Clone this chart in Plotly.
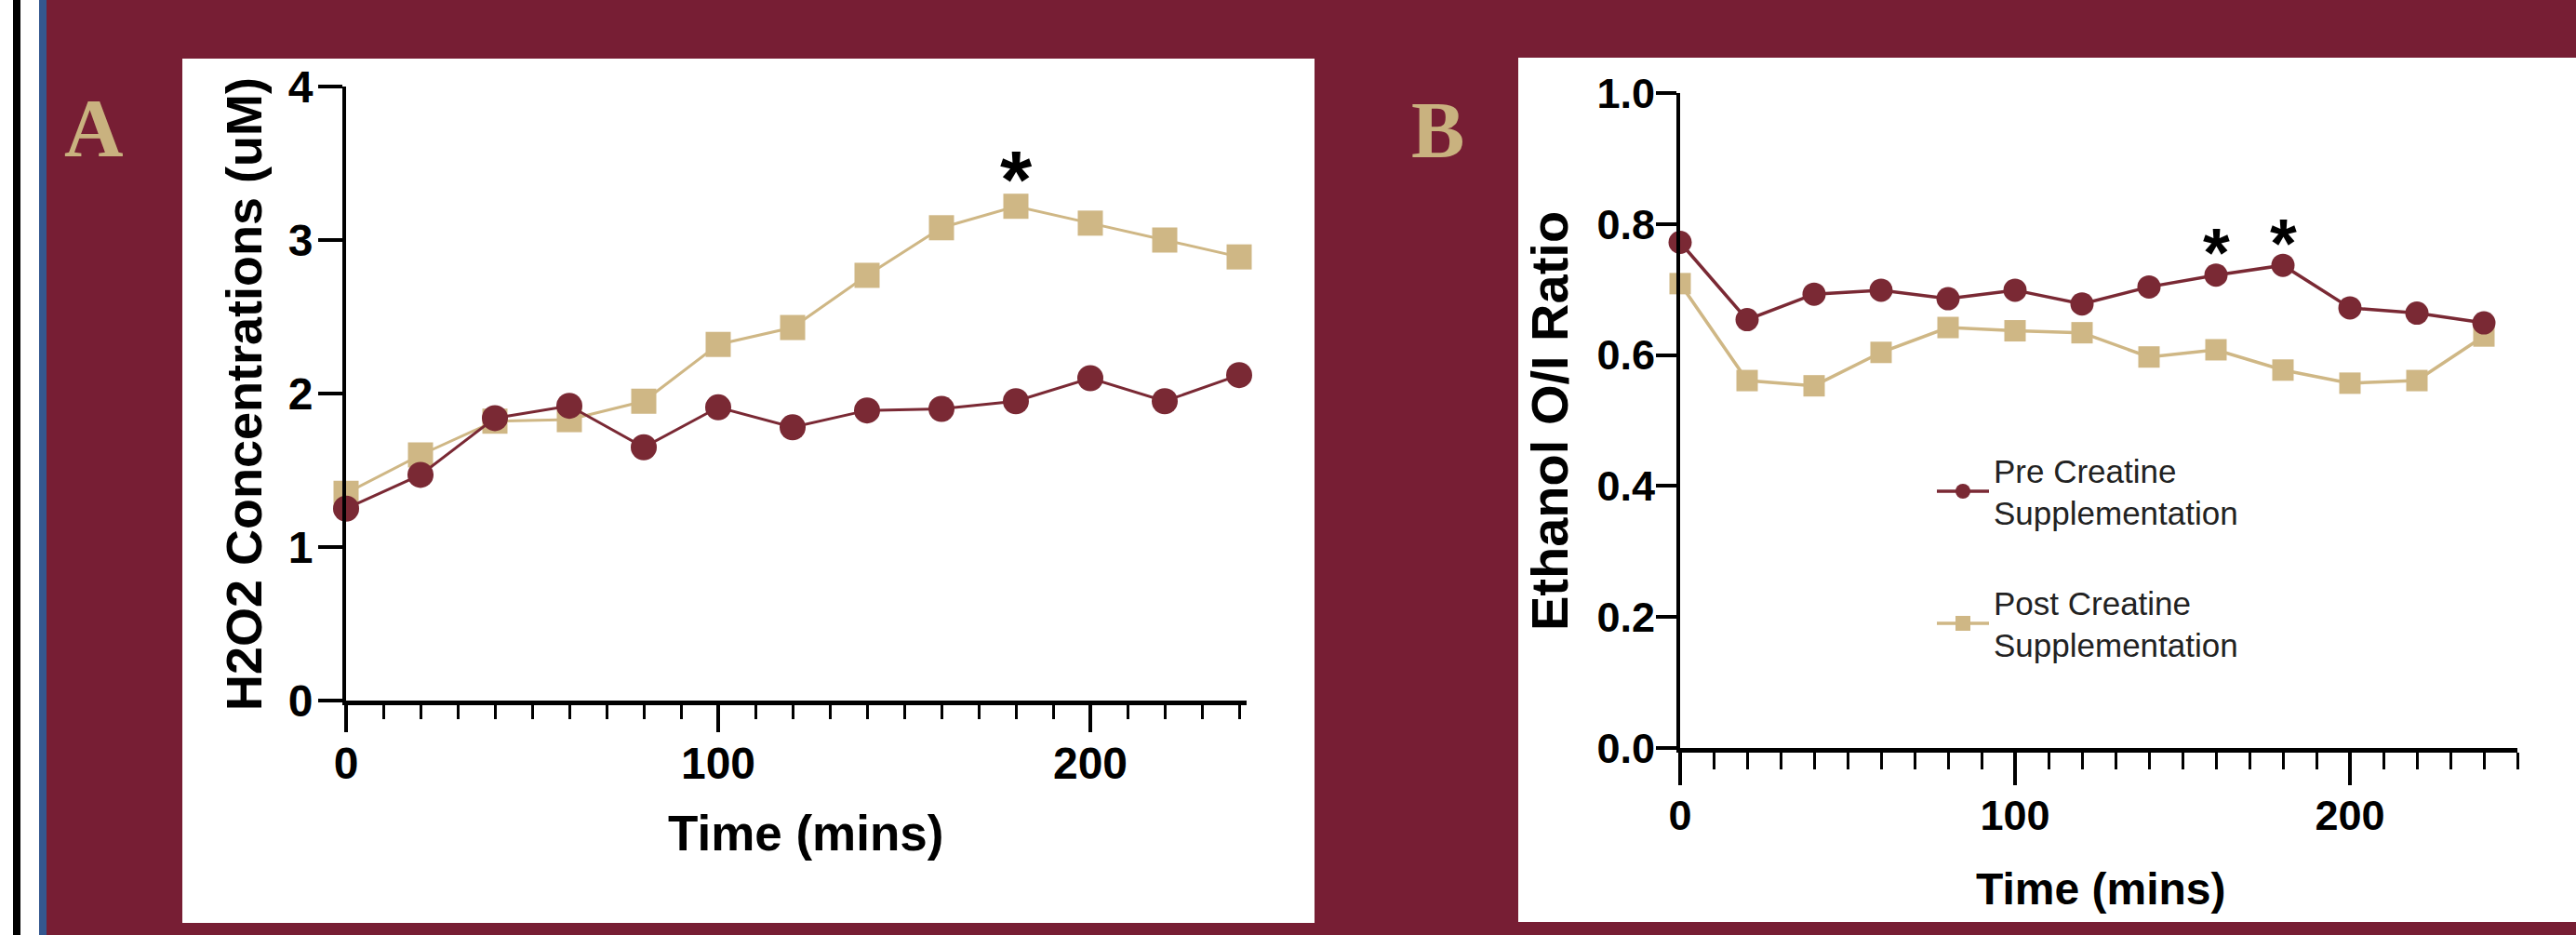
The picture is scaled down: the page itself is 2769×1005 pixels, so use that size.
import plotly.graph_objects as go

# ---------------- data ----------------
time_mins = [0, 20, 40, 60, 80, 100, 120, 140, 160, 180, 200, 220, 240]

h2o2_pre = [1.25, 1.47, 1.84, 1.92, 1.65, 1.91, 1.78, 1.89, 1.90, 1.95, 2.10, 1.95, 2.12]
h2o2_post = [1.35, 1.60, 1.82, 1.83, 1.95, 2.32, 2.43, 2.77, 3.08, 3.22, 3.11, 3.00, 2.89]

ethanol_pre = [0.772, 0.654, 0.693, 0.699, 0.686, 0.699, 0.678, 0.704, 0.722, 0.737, 0.672, 0.664, 0.649]
ethanol_post = [0.709, 0.561, 0.553, 0.604, 0.642, 0.637, 0.634, 0.597, 0.608, 0.577, 0.557, 0.561, 0.629]

star_times_a = [180]          # significant points on post series (panel A)
star_times_b = [160, 180]     # significant points on pre series (panel B)

series_names = ["Pre Creatine<br>Supplementation", "Post Creatine<br>Supplementation"]
panel_letters = ["A", "B"]

# ---------------- style ----------------
W, H = 2769, 1005
MAROON = "#771E34"
GOLD_TXT = "#C9B27F"
BLUE = "#34578F"
PRE_C = "#7A2934"
POST_C = "#CFB785"
SANS = "Liberation Sans, Arial, sans-serif"
SERIF = "Liberation Serif, Times New Roman, serif"


def fx(x):
    return x / W


def fy(y):
    return 1 - y / H


fig = go.Figure()

# Panel A traces (post first, pre on top)
fig.add_trace(go.Scatter(x=time_mins, y=h2o2_post, mode="lines+markers",
                         line=dict(color=POST_C, width=3),
                         marker=dict(symbol="square", size=27, color=POST_C),
                         showlegend=False, cliponaxis=False, xaxis="x", yaxis="y"))
fig.add_trace(go.Scatter(x=time_mins, y=h2o2_pre, mode="lines+markers",
                         line=dict(color=PRE_C, width=3),
                         marker=dict(symbol="circle", size=28, color=PRE_C),
                         showlegend=False, cliponaxis=False, xaxis="x", yaxis="y"))

# Panel B traces
fig.add_trace(go.Scatter(x=time_mins, y=ethanol_post, mode="lines+markers",
                         name=series_names[1], legendgroup="post", legendrank=2,
                         line=dict(color=POST_C, width=3.5),
                         marker=dict(symbol="square", size=23, color=POST_C),
                         cliponaxis=False, xaxis="x2", yaxis="y2"))
fig.add_trace(go.Scatter(x=time_mins, y=ethanol_pre, mode="lines+markers",
                         name=series_names[0], legendgroup="pre", legendrank=1,
                         line=dict(color=PRE_C, width=3.5),
                         marker=dict(symbol="circle", size=25, color=PRE_C),
                         cliponaxis=False, xaxis="x2", yaxis="y2"))

# ---------------- background shapes ----------------
shapes = []


def rect(x0, y0, x1, y1, color):
    shapes.append(dict(type="rect", xref="paper", yref="paper",
                       x0=fx(x0), x1=fx(x1), y0=fy(y1), y1=fy(y0),
                       fillcolor=color, line=dict(width=0), layer="below"))


rect(0, 0, 50, H, "white")
rect(14, 0, 22, H, "black")
rect(42, 0, 50, H, BLUE)
rect(196, 63, 1413, 992, "white")
rect(1632, 62, W, 991, "white")

# ---------------- axes ----------------
tick_a = dict(family=SANS, size=48, color="black", weight="bold")
tick_b = dict(family=SANS, size=45, color="black", weight="bold")

common_x = dict(showgrid=False, zeroline=False, showline=True, linecolor="black",
                ticks="outside", tickcolor="black", dtick=100, tick0=0, automargin=False)
common_y = dict(showgrid=False, zeroline=False, showline=True, linecolor="black",
                ticks="outside", tickcolor="black", automargin=False)

fig.update_layout(
    template="none",
    xaxis=dict(**common_x, domain=[fx(372), fx(1340)], range=[0, 242], anchor="y",
               linewidth=5, ticklen=29, tickwidth=4, tickfont=tick_a, ticklabelstandoff=-8,
               minor=dict(dtick=10, tick0=0, ticks="outside", ticklen=15, tickwidth=3,
                          tickcolor="black", showgrid=False)),
    yaxis=dict(**common_y, domain=[fy(753), fy(93)], range=[0, 4], dtick=1, anchor="x",
               linewidth=4, ticklen=26, tickwidth=4, tickfont=tick_a, ticklabelstandoff=-4),
    xaxis2=dict(**common_x, domain=[fx(1806), fx(2706)], range=[0, 250], anchor="y2",
                linewidth=5, ticklen=35, tickwidth=4, tickfont=tick_b, ticklabelstandoff=-6,
                minor=dict(dtick=10, tick0=0, ticks="outside", ticklen=18, tickwidth=3,
                           tickcolor="black", showgrid=False)),
    yaxis2=dict(**common_y, domain=[fy(804), fy(100)], range=[0, 1.0], dtick=0.2,
                tickformat=".1f", anchor="x2", ticklabelstandoff=-8,
                linewidth=4, ticklen=22, tickwidth=4, tickfont=tick_b),
)

# ---------------- annotations ----------------
ann = []
ann.append(dict(text=panel_letters[0], x=fx(101), y=fy(138), xref="paper", yref="paper",
                showarrow=False, xanchor="center", yanchor="middle",
                font=dict(family=SERIF, size=88, color=GOLD_TXT, weight="bold")))
ann.append(dict(text=panel_letters[1], x=fx(1545), y=fy(140), xref="paper", yref="paper",
                showarrow=False, xanchor="center", yanchor="middle",
                font=dict(family=SERIF, size=86, color=GOLD_TXT, weight="bold")))

ann.append(dict(text="H2O2 Concentrations (uM)", x=fx(262), y=fy(424), xref="paper", yref="paper",
                showarrow=False, textangle=-90, xanchor="center", yanchor="middle",
                font=dict(family=SANS, size=54, color="black", weight="bold")))
ann.append(dict(text="Time (mins)", x=fx(866), y=fy(895), xref="paper", yref="paper",
                showarrow=False, xanchor="center", yanchor="middle",
                font=dict(family=SANS, size=53, color="black", weight="bold")))
ann.append(dict(text="Ethanol O/I Ratio", x=fx(1665), y=fy(453), xref="paper", yref="paper",
                showarrow=False, textangle=-90, xanchor="center", yanchor="middle",
                font=dict(family=SANS, size=56, color="black", weight="bold")))
ann.append(dict(text="Time (mins)", x=fx(2258), y=fy(955), xref="paper", yref="paper",
                showarrow=False, xanchor="center", yanchor="middle",
                font=dict(family=SANS, size=48, color="black", weight="bold")))

for t in star_times_a:
    v = h2o2_post[time_mins.index(t)]
    ann.append(dict(text="*", x=t, y=v, xref="x", yref="y", showarrow=False,
                    xanchor="center", yanchor="middle", yshift=29,
                    font=dict(family=SANS, size=88, color="black", weight="bold")))
for t in star_times_b:
    v = ethanol_pre[time_mins.index(t)]
    ann.append(dict(text="*", x=t, y=v, xref="x2", yref="y2", showarrow=False,
                    xanchor="center", yanchor="middle", yshift=24,
                    font=dict(family=SANS, size=74, color="black", weight="bold")))

fig.update_layout(
    width=W, height=H, autosize=False, margin=dict(l=0, r=0, t=0, b=0, pad=0),
    paper_bgcolor=MAROON, plot_bgcolor="rgba(0,0,0,0)",
    shapes=shapes, annotations=ann,
    showlegend=True, hovermode=False,
    legend=dict(x=fx(2077), y=fy(476), xanchor="left", yanchor="top",
                bgcolor="rgba(0,0,0,0)", borderwidth=0,
                font=dict(family=SANS, size=35, color="#222222"),
                itemwidth=56, tracegroupgap=48, traceorder="grouped", valign="middle"),
)

fig.write_html("out.html", config={"displayModeBar": False},
               post_script="document.body.style.margin='0';")
